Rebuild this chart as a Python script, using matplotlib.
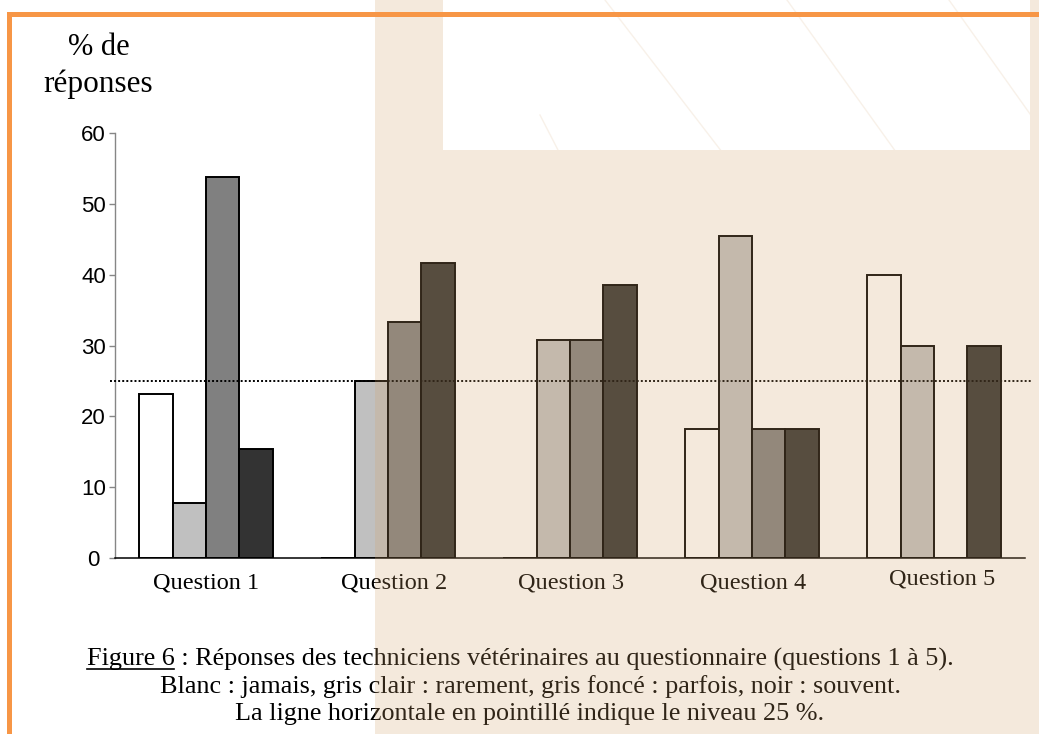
import matplotlib
matplotlib.use("Agg")
import matplotlib.pyplot as plt
from matplotlib.patches import Rectangle
from matplotlib.lines import Line2D
from matplotlib.transforms import ScaledTranslation
import numpy as np

# ---------------- data ----------------
questions = ["Question 1", "Question 2", "Question 3", "Question 4", "Question 5"]
series_names = ["jamais", "rarement", "parfois", "souvent"]
jamais = [23.1, 0.0, 0.0, 18.2, 40.0]
rarement = [7.7, 25.0, 30.8, 45.5, 30.0]
parfois = [53.8, 33.3, 30.8, 18.2, 0.0]
souvent = [15.4, 41.7, 38.5, 18.2, 30.0]
y_ticks = [0, 10, 20, 30, 40, 50, 60]
y_tick_labels = ["0", "10", "20", "30", "40", "50", "60"]
reference_level = 25
y_label_lines = ["% de", "réponses"]
caption_lines = [
    "Figure 6 : Réponses des techniciens vétérinaires au questionnaire (questions 1 à 5).",
    "Blanc : jamais, gris clair : rarement, gris foncé : parfois, noir : souvent.",
    "La ligne horizontale en pointillé indique le niveau 25 %.",
]

# ---------------- style / layout ----------------
W, H = 1039, 734
DPI = 100
SERIF = "Liberation Serif"
SANS = "Liberation Sans"
bar_colors = ["#ffffff", "#c0c0c0", "#808080", "#333333"]
ORANGE = "#F79646"

def fx(px):
    return px / W

def fy(py):
    return 1 - py / H

fig = plt.figure(figsize=(W / DPI, H / DPI), dpi=DPI)
fig.patch.set_facecolor("white")

ax_left, ax_right, ax_top, ax_bottom = 115, 1025, 133, 558
ax = fig.add_axes([fx(ax_left), fy(ax_bottom), (ax_right - ax_left) / W, (ax_bottom - ax_top) / H])
ax.set_facecolor("none")
ax.set_xlim(-0.5, len(questions) - 0.5)
ax.set_ylim(0, 60)

series = [jamais, rarement, parfois, souvent]
x = np.arange(len(questions))
bw = 0.184
for k, (vals, col) in enumerate(zip(series, bar_colors)):
    ax.bar(x + (k - 1.5) * bw, vals, width=bw, color=col, edgecolor="black",
           linewidth=1.4, zorder=2, label=series_names[k])

# dotted reference line (extends a bit beyond the axes)
ax.plot([-5 / 910, 917 / 910], [reference_level, reference_level],
        transform=ax.get_yaxis_transform(), clip_on=False,
        color="black", lw=1.4, ls=(0, (1, 1.1)), zorder=3)

for s in ["top", "right"]:
    ax.spines[s].set_visible(False)
ax.spines["left"].set_color("#868686")
ax.spines["left"].set_linewidth(1.0)
ax.spines["bottom"].set_color("black")
ax.spines["bottom"].set_linewidth(1.1)
ax.spines["bottom"].set_zorder(4)

ax.set_yticks(y_ticks)
ax.tick_params(axis="y", direction="out", length=4, width=1.0, color="#868686",
               labelleft=False)
ax.set_xticks([])

# y tick labels (centred in their box, as in the original)
for val, lab in zip(y_ticks, y_tick_labels):
    dx = 93.5 - ax_left
    tr = ax.get_yaxis_transform() + ScaledTranslation(dx / DPI, 0, fig.dpi_scale_trans)
    ax.text(0, val, lab, transform=tr, ha="center", va="center_baseline",
            fontsize=16, family=SANS, color="black", clip_on=False)

# category labels (placed as text boxes in the original)
label_dx_px = [0, 6, 1, 1, 8]
label_base_px = [588, 588, 588, 588, 584]
for i, q in enumerate(questions):
    yy = (ax_bottom - label_base_px[i]) / (ax_bottom - ax_top)
    ax.text(i + label_dx_px[i] / 182.0, yy, q, transform=ax.get_xaxis_transform(),
            ha="center", va="baseline", fontsize=17.5, family=SERIF, clip_on=False)

# y axis title
fig.text(fx(98.5), fy(55), y_label_lines[0], ha="center", va="baseline",
         fontsize=22, family=SERIF)
fig.text(fx(98), fy(92), y_label_lines[1], ha="center", va="baseline",
         fontsize=22.5, family=SERIF)

# caption
renderer = fig.canvas.get_renderer()
cap_fs = 17
tmp = fig.text(0, 0, caption_lines[0], fontsize=cap_fs, family=SERIF)
w0 = tmp.get_window_extent(renderer).width
tmp.remove()
cap_fs = cap_fs * 866 / w0
cap_centers = [520, 530, 530]
cap_bases = [666, 693, 720]
texts = []
for line, cx, by in zip(caption_lines, cap_centers, cap_bases):
    t = fig.text(fx(cx), fy(by), line, ha="center", va="baseline",
                 fontsize=cap_fs, family=SERIF)
    texts.append(t)
bb = texts[0].get_window_extent(renderer)
tmp = fig.text(0, 0, "Figure 6", fontsize=cap_fs, family=SERIF)
wf = tmp.get_window_extent(renderer).width
tmp.remove()
uy = fy(cap_bases[0] + 3)
fig.add_artist(Line2D([bb.x0 / W, (bb.x0 + wf) / W], [uy, uy], color="black",
                      lw=1.2, transform=fig.transFigure, zorder=3))

# ---------------- slide decoration ----------------
overlay = Rectangle((fx(375), 0), 1 - fx(375), 1, transform=fig.transFigure,
                    facecolor=(211 / 255, 164 / 255, 107 / 255), alpha=0.23,
                    lw=0, zorder=5)
fig.add_artist(overlay)

white_box = Rectangle((fx(443), fy(150)), (1030 - 443) / W, 150 / H,
                      transform=fig.transFigure, facecolor="white", lw=0, zorder=6)
fig.add_artist(white_box)

diag = [((605, 0), (722, 152)), ((787, 0), (896, 152)), ((949, 0), (1040, 128)),
        ((540, 115), (559, 152))]
for (x0, y0), (x1, y1) in diag:
    ln = Line2D([fx(x0), fx(x1)], [fy(y0), fy(y1)], transform=fig.transFigure,
                color="#f8f1e9", lw=1.0, zorder=6.5)
    ln.set_clip_path(white_box)
    fig.add_artist(ln)

fig.add_artist(Rectangle((fx(7), fy(16.5)), 1 - fx(7), 4.5 / H, transform=fig.transFigure,
                         facecolor=ORANGE, lw=0, zorder=7))
fig.add_artist(Rectangle((fx(7), 0), 5 / W, fy(12), transform=fig.transFigure,
                         facecolor=ORANGE, lw=0, zorder=7))

fig.savefig("out.png", dpi=DPI)
